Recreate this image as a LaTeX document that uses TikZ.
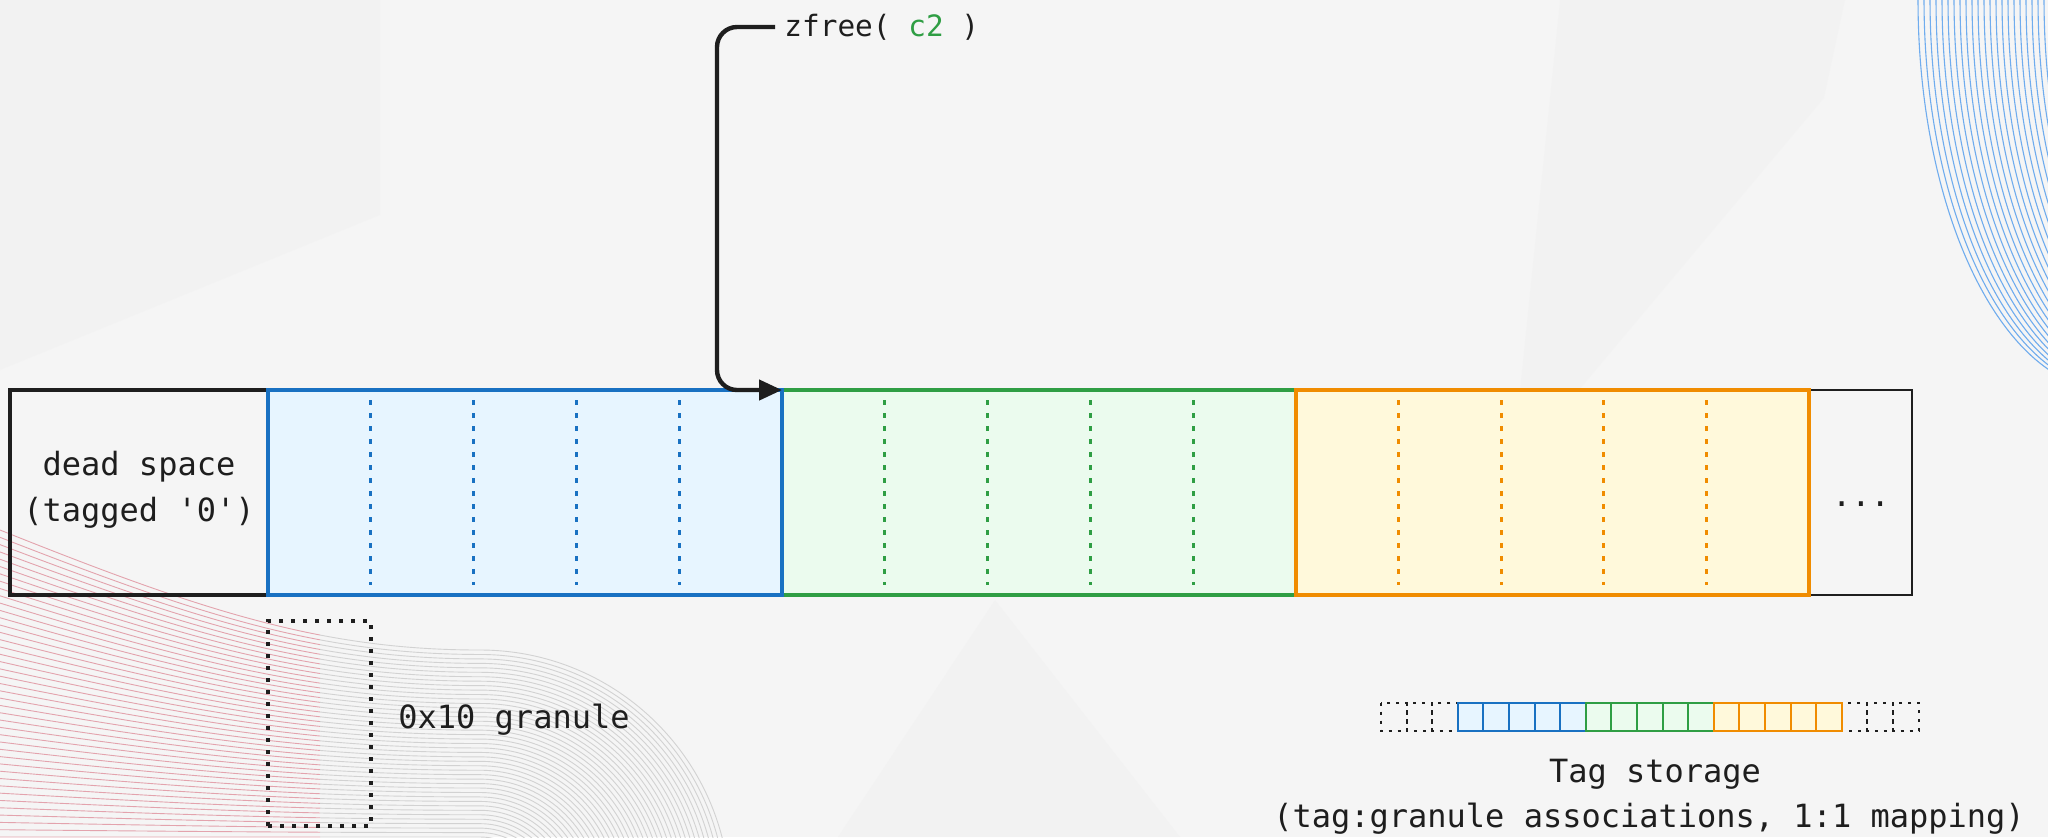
\documentclass[tikz,border=0pt]{standalone}
\usepackage{fontspec}
\setmonofont{DejaVu Sans Mono}
\usetikzlibrary{arrows.meta,calc}

\definecolor{ink}{HTML}{1E1E1E}
\definecolor{paper}{HTML}{F5F5F5}
\definecolor{paperdark}{HTML}{EEEEEE}
\definecolor{blueS}{HTML}{1971C2}
\definecolor{blueF}{HTML}{E7F5FF}
\definecolor{greenS}{HTML}{2F9E44}
\definecolor{greenF}{HTML}{EBFBEE}
\definecolor{orangeS}{HTML}{F08C00}
\definecolor{orangeF}{HTML}{FFF9DB}
\definecolor{arcblue}{HTML}{6FACEE}
\definecolor{wavepink}{HTML}{E3A3AD}
\definecolor{wavegray}{HTML}{D2D2D2}

% family of wavy background lines (left tails flowing into arcs)
\newcommand\wavefamily{%
  \foreach \i in {0,...,42}{%
    \pgfmathsetmacro\tt{\i/42}%
    \pgfmathsetmacro\rr{250-187*\tt}%
    \pgfmathsetmacro\ya{530+307*\tt}%
    \pgfmathsetmacro\yb{610+227*\tt}%
    \pgfmathsetmacro\yc{900-\rr}%
    \pgfmathsetmacro\xd{480+0.5523*\rr}%
    \pgfmathsetmacro\yd{900-0.5523*\rr}%
    \pgfmathsetmacro\xe{480+\rr}%
    \draw (0,\ya) .. controls (200,\yb) and (320,\yc) .. (480,\yc)
          .. controls (\xd,\yc) and (\xe,\yd) .. (\xe,900);
  }%
}

\begin{document}
\begin{tikzpicture}[x=0.5pt, y=-0.5pt,
  font=\ttfamily\fontsize{16}{23}\selectfont, text=ink,
  seg/.style={line width=2.4pt, inner sep=0pt, outer sep=0pt,
    minimum height=102.5pt, anchor=north west},
  chunk/.style={seg, draw=#1S, fill=#1F},
  granule/.style={draw=#1, line width=1.4pt, dash pattern=on 2.5pt off 4pt},
  callout/.style={draw=ink, line width=2.2pt, rounded corners=10pt,
    -{Triangle[length=11.5pt,width=10pt]}},
  cell/.style={draw=#1S, fill=#1F, line width=1pt},
  emptycell/.style={draw=ink, line width=1pt, dash pattern=on 1.5pt off 3pt},
  label/.style={inner sep=0pt}
]
\useasboundingbox (0,0) rectangle (2048,837);

% ---------- backdrop ----------
\fill[paper] (0,0) rectangle (2048,837);
\begin{scope}
  \clip (0,0) rectangle (2048,837);
  \fill[paperdark, opacity=0.3] (0,0) -- (380,0) -- (380,215) -- (0,370) -- cycle;
  \fill[paperdark, opacity=0.3] (1560,0) -- (1845,0) -- (1824,98) -- (1579,390) -- (1520,390) -- cycle;
  \fill[paperdark, opacity=0.4] (995,600) -- (838,837) -- (1180,837) -- cycle;
  % blue arcs, top right
  \foreach \i in {0,...,21}
    \draw[arcblue, line width=0.55pt]
      ({1918+6*\i},0) .. controls ({1918+6*\i},215) and ({2004+6*\i},390) .. ({2110+6*\i},390);
  % wavy lines, bottom left
  \begin{scope}
    \clip (0,0) rectangle (320,837);
    \begin{scope}[wavepink, line width=0.45pt]\wavefamily\end{scope}
  \end{scope}
  \begin{scope}
    \clip (320,0) rectangle (2048,837);
    \begin{scope}[wavegray, line width=0.45pt]\wavefamily\end{scope}
  \end{scope}
\end{scope}

% ---------- memory bar ----------
\node[seg, draw=ink, minimum width=129pt] (dead) at (10,390) {};
\node[seg, draw=ink, line width=1.1pt, minimum width=51.5pt] (more) at (1809,390) {};
\node[chunk=green,  minimum width=257pt]   (c2) at (782,390) {};
\node[chunk=blue,   minimum width=257pt]   (c1) at (268,390) {};
\node[chunk=orange, minimum width=256.5pt] (c3) at (1296,390) {};

\foreach \k in {1,...,4}{
  \draw[granule=blueS]   ($(c1.north west)+({\k*102.8},10)$) -- ++(0,185);
  \draw[granule=greenS]  ($(c2.north west)+({\k*102.8},10)$) -- ++(0,185);
  \draw[granule=orangeS] ($(c3.north west)+({\k*102.6},10)$) -- ++(0,185);
}

\node[align=center] (deadtxt) at (139,490) {dead space\\(tagged '0')};
\node[label, anchor=base] (dots) at (1861,506) {...};

% ---------- free call ----------
\node[label, anchor=west, font=\ttfamily\fontsize{14.7}{18}\selectfont]
  (zf) at (784,27) {zfree( \textcolor{greenS}{c2} )};
\draw[callout] ([xshift=-4.5pt]zf.west) -| ([xshift=-32.5pt]c2.north west) -- (c2.north west);

% ---------- granule legend ----------
\node[seg, draw=ink, line width=2pt, dash pattern=on 2pt off 4pt,
  minimum width=51.5pt] (gran) at (268,621) {};
\node[label, anchor=base west] (grantxt) at (398,728) {0x10 granule};

% ---------- tag storage ----------
\foreach \j in {0,1,2,18,19,20}
  \draw[emptycell] ({1381+25.6*\j},702.5) rectangle ++(25.6,28.5);
\foreach \j in {3,...,7}
  \draw[cell=blue] ({1381+25.6*\j},702.5) rectangle ++(25.6,28.5);
\foreach \j in {8,...,12}
  \draw[cell=green] ({1381+25.6*\j},702.5) rectangle ++(25.6,28.5);
\foreach \j in {13,...,17}
  \draw[cell=orange] ({1381+25.6*\j},702.5) rectangle ++(25.6,28.5);

\node[label, anchor=base] (tagtitle) at (1655,782) {Tag storage};
\node[label, anchor=base] (tagnote)  at (1649,827) {(tag:granule associations, 1:1 mapping)};
\end{tikzpicture}
\end{document}
